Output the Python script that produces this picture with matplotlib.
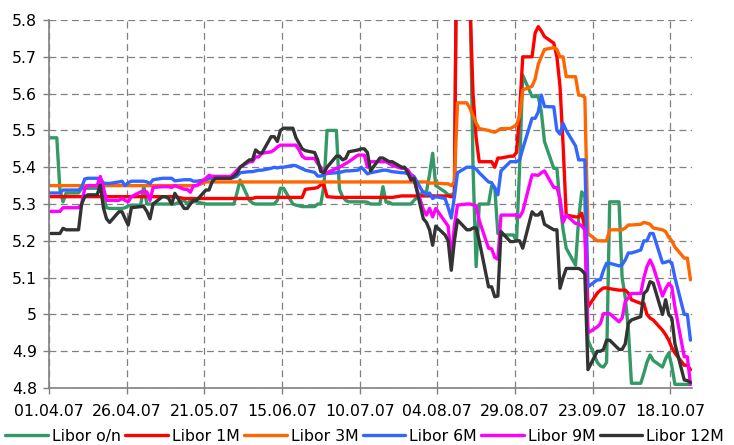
import pandas as pd
import matplotlib
matplotlib.use('Agg')
import matplotlib.pyplot as plt
from matplotlib.ticker import FuncFormatter

# daily fixings, 01.04.07 plus business days 02.04.07 - 24.10.07 (one line per week)
dates = pd.bdate_range('2007-04-02', '2007-10-24').insert(0, pd.Timestamp('2007-04-01'))

libor_on = [
    5.48, 5.48, 5.48, 5.34, 5.306, 5.33,
    5.33, 5.33, 5.343, 5.343, 5.343,
    5.343, 5.343, 5.32, 5.29, 5.288,
    5.288, 5.288, 5.29, 5.295, 5.297,
    5.297, 5.35, 5.30, 5.30, 5.30,
    5.30, 5.30, 5.30, 5.30, 5.30,
    5.31, 5.30, 5.31, 5.306, 5.306,
    5.30, 5.30, 5.30, 5.30, 5.30,
    5.30, 5.30, 5.30, 5.33, 5.365,
    5.31, 5.303, 5.30, 5.30, 5.30,
    5.30, 5.30, 5.31, 5.343, 5.343,
    5.30, 5.297, 5.295, 5.293, 5.293,
    5.293, 5.30, 5.30, 5.35, 5.50,
    5.50, 5.34, 5.32, 5.31, 5.306,
    5.306, 5.306, 5.306, 5.305, 5.30,
    5.30, 5.347, 5.305, 5.305, 5.30,
    5.30, 5.30, 5.30, 5.30, 5.31,
    5.333, 5.333, 5.38, 5.438, 5.35,
    5.333, 5.325, 5.325, 5.33, 6.30,
    6.30, 5.90, 5.40, 5.13, 5.30,
    5.30, 5.35, 5.345, 5.22, 5.216,
    5.216, 5.216, 5.20, 5.40, 5.65,
    5.592, 5.592, 5.592, 5.55, 5.47,
    5.397, 5.397, 5.30, 5.23, 5.18,
    5.134, 5.26, 5.333, 5.32, 4.93,
    4.87, 4.86, 4.857, 4.87, 5.306,
    5.306, 5.10, 5.047, 4.96, 4.813,
    4.813, 4.84, 4.87, 4.89, 4.875,
    4.857, 4.88, 4.895, 4.86, 4.81,
    4.81, 4.81, 4.81,
]

libor_1m = [
    5.32, 5.32, 5.32, 5.32, 5.32, 5.32,
    5.32, 5.32, 5.32, 5.32, 5.32,
    5.32, 5.32, 5.32, 5.32, 5.32,
    5.32, 5.32, 5.32, 5.32, 5.32,
    5.32, 5.32, 5.32, 5.32, 5.32,
    5.32, 5.32, 5.32, 5.32, 5.32,
    5.315, 5.315, 5.315, 5.315, 5.315,
    5.315, 5.315, 5.315, 5.315, 5.315,
    5.315, 5.315, 5.315, 5.315, 5.315,
    5.315, 5.315, 5.318, 5.318, 5.318,
    5.318, 5.318, 5.318, 5.318, 5.318,
    5.318, 5.318, 5.318, 5.318, 5.34,
    5.343, 5.345, 5.352, 5.352, 5.32,
    5.318, 5.318, 5.318, 5.318, 5.318,
    5.318, 5.318, 5.318, 5.318, 5.318,
    5.318, 5.318, 5.318, 5.318, 5.318,
    5.322, 5.322, 5.322, 5.322, 5.322,
    5.322, 5.322, 5.322, 5.322, 5.322,
    5.322, 5.322, 5.32, 5.32, 6.30,
    6.30, 5.85, 5.60, 5.48, 5.415,
    5.415, 5.415, 5.40, 5.425, 5.425,
    5.43, 5.43, 5.44, 5.55, 5.70,
    5.70, 5.765, 5.782, 5.77, 5.755,
    5.737, 5.70, 5.62, 5.46, 5.27,
    5.265, 5.265, 5.275, 5.235, 5.02,
    5.058, 5.066, 5.072, 5.072, 5.07,
    5.066, 5.066, 5.066, 5.058, 5.04,
    5.03, 5.03, 5.00, 4.99, 4.985,
    4.957, 4.945, 4.93, 4.91, 4.895,
    4.862, 4.862, 4.85,
]

libor_3m = [
    5.35, 5.35, 5.35, 5.35, 5.35, 5.35,
    5.35, 5.35, 5.35, 5.35, 5.35,
    5.35, 5.35, 5.35, 5.35, 5.35,
    5.35, 5.35, 5.35, 5.35, 5.35,
    5.35, 5.35, 5.35, 5.35, 5.35,
    5.35, 5.35, 5.35, 5.35, 5.35,
    5.35, 5.35, 5.35, 5.35, 5.35,
    5.36, 5.36, 5.36, 5.36, 5.36,
    5.36, 5.36, 5.36, 5.36, 5.36,
    5.36, 5.36, 5.36, 5.36, 5.36,
    5.36, 5.36, 5.36, 5.36, 5.36,
    5.36, 5.36, 5.36, 5.36, 5.36,
    5.36, 5.36, 5.36, 5.36, 5.36,
    5.36, 5.36, 5.36, 5.36, 5.36,
    5.36, 5.36, 5.36, 5.36, 5.36,
    5.36, 5.36, 5.36, 5.36, 5.36,
    5.36, 5.36, 5.36, 5.36, 5.36,
    5.36, 5.36, 5.357, 5.357, 5.357,
    5.355, 5.355, 5.35, 5.36, 5.575,
    5.575, 5.56, 5.54, 5.52, 5.505,
    5.50, 5.497, 5.495, 5.50, 5.505,
    5.505, 5.51, 5.515, 5.54, 5.61,
    5.62, 5.64, 5.68, 5.70, 5.72,
    5.725, 5.72, 5.70, 5.70, 5.646,
    5.646, 5.596, 5.595, 5.59, 5.22,
    5.20, 5.20, 5.20, 5.20, 5.23,
    5.23, 5.23, 5.235, 5.243, 5.243,
    5.245, 5.25, 5.248, 5.245, 5.235,
    5.23, 5.225, 5.21, 5.20, 5.183,
    5.153, 5.153, 5.094,
]

libor_6m = [
    5.33, 5.33, 5.33, 5.33, 5.338, 5.338,
    5.338, 5.338, 5.345, 5.368, 5.37,
    5.37, 5.368, 5.357, 5.356, 5.356,
    5.36, 5.362, 5.35, 5.358, 5.362,
    5.362, 5.362, 5.36, 5.356, 5.366,
    5.37, 5.37, 5.37, 5.37, 5.363,
    5.366, 5.366, 5.366, 5.362, 5.362,
    5.366, 5.37, 5.37, 5.37, 5.37,
    5.37, 5.37, 5.372, 5.376, 5.385,
    5.388, 5.388, 5.39, 5.392, 5.392,
    5.397, 5.40, 5.398, 5.40, 5.40,
    5.405, 5.404, 5.40, 5.396, 5.392,
    5.386, 5.376, 5.376, 5.38, 5.383,
    5.385, 5.386, 5.388, 5.39, 5.39,
    5.392, 5.40, 5.392, 5.382, 5.385,
    5.39, 5.392, 5.392, 5.39, 5.388,
    5.385, 5.385, 5.382, 5.38, 5.375,
    5.33, 5.325, 5.33, 5.315, 5.32,
    5.315, 5.29, 5.262, 5.32, 5.385,
    5.40, 5.40, 5.40, 5.395, 5.385,
    5.36, 5.358, 5.343, 5.325, 5.39,
    5.415, 5.415, 5.415, 5.42, 5.45,
    5.533, 5.533, 5.55, 5.596, 5.565,
    5.564, 5.50, 5.49, 5.519, 5.50,
    5.458, 5.42, 5.42, 5.42, 5.075,
    5.094, 5.094, 5.12, 5.139, 5.139,
    5.132, 5.135, 5.148, 5.167, 5.167,
    5.175, 5.20, 5.20, 5.22, 5.22,
    5.14, 5.142, 5.145, 5.14, 5.10,
    5.00, 5.00, 4.93,
]

libor_9m = [
    5.28, 5.28, 5.28, 5.28, 5.29, 5.29,
    5.29, 5.29, 5.30, 5.343, 5.35,
    5.35, 5.375, 5.345, 5.31, 5.31,
    5.31, 5.315, 5.31, 5.306, 5.32,
    5.333, 5.333, 5.333, 5.31, 5.345,
    5.347, 5.347, 5.347, 5.345, 5.35,
    5.34, 5.34, 5.332, 5.35, 5.35,
    5.37, 5.378, 5.375, 5.375, 5.375,
    5.375, 5.375, 5.383, 5.392, 5.40,
    5.415, 5.415, 5.428, 5.428, 5.438,
    5.442, 5.447, 5.455, 5.46, 5.46,
    5.46, 5.46, 5.447, 5.43, 5.424,
    5.424, 5.41, 5.40, 5.385, 5.385,
    5.397, 5.40, 5.405, 5.41, 5.415,
    5.433, 5.433, 5.433, 5.40, 5.415,
    5.415, 5.415, 5.415, 5.41, 5.405,
    5.397, 5.397, 5.393, 5.38, 5.365,
    5.285, 5.27, 5.288, 5.265, 5.288,
    5.252, 5.24, 5.15, 5.24, 5.297,
    5.30, 5.30, 5.298, 5.295, 5.255,
    5.18, 5.178, 5.155, 5.15, 5.27,
    5.27, 5.27, 5.27, 5.265, 5.28,
    5.379, 5.379, 5.378, 5.385, 5.39,
    5.345, 5.345, 5.315, 5.25, 5.27,
    5.247, 5.247, 5.24, 5.23, 4.95,
    4.966, 4.975, 5.002, 5.002, 5.002,
    4.98, 4.99, 5.035, 5.045, 5.057,
    5.057, 5.10, 5.13, 5.148, 5.13,
    5.05, 5.07, 5.084, 5.075, 5.02,
    4.885, 4.885, 4.81,
]

libor_12m = [
    5.22, 5.22, 5.22, 5.22, 5.234, 5.23,
    5.23, 5.23, 5.30, 5.32, 5.325,
    5.325, 5.352, 5.29, 5.26, 5.25,
    5.279, 5.279, 5.26, 5.243, 5.29,
    5.293, 5.293, 5.28, 5.26, 5.30,
    5.32, 5.32, 5.315, 5.30, 5.329,
    5.288, 5.288, 5.30, 5.31, 5.31,
    5.338, 5.338, 5.36, 5.37, 5.37,
    5.37, 5.37, 5.376, 5.383, 5.40,
    5.42, 5.42, 5.447, 5.44, 5.438,
    5.483, 5.483, 5.47, 5.50, 5.506,
    5.506, 5.48, 5.465, 5.45, 5.445,
    5.44, 5.42, 5.388, 5.385, 5.40,
    5.43, 5.43, 5.42, 5.424, 5.442,
    5.447, 5.45, 5.45, 5.44, 5.39,
    5.425, 5.425, 5.42, 5.415, 5.415,
    5.40, 5.40, 5.385, 5.365, 5.37,
    5.26, 5.25, 5.23, 5.188, 5.24,
    5.216, 5.20, 5.12, 5.20, 5.257,
    5.23, 5.23, 5.235, 5.235, 5.20,
    5.075, 5.075, 5.048, 5.05, 5.225,
    5.198, 5.198, 5.20, 5.20, 5.18,
    5.279, 5.27, 5.27, 5.279, 5.245,
    5.23, 5.23, 5.071, 5.10, 5.125,
    5.125, 5.125, 5.12, 5.11, 4.85,
    4.90, 4.90, 4.905, 4.93, 4.93,
    4.905, 4.905, 4.92, 4.976, 4.985,
    4.994, 5.057, 5.065, 5.089, 5.085,
    5.00, 5.04, 5.00, 4.99, 4.92,
    4.822, 4.82, 4.815,
]

names = ['Libor o/n', 'Libor 1M', 'Libor 3M', 'Libor 6M', 'Libor 9M', 'Libor 12M']
colors = ['#339966', '#ff0000', '#ff6600', '#3366ff', '#ff00ff', '#333333']
tick_labels = ['01.04.07', '26.04.07', '21.05.07', '15.06.07', '10.07.07',
               '04.08.07', '29.08.07', '23.09.07', '18.10.07']
y_ticks = [4.8, 4.9, 5.0, 5.1, 5.2, 5.3, 5.4, 5.5, 5.6, 5.7, 5.8]

fig = plt.figure(figsize=(7.34, 4.45), dpi=100)
ax = fig.add_axes([0.0668, 0.128, 0.876, 0.827])

x = dates + pd.Timedelta(hours=12)   # points sit in the middle of their day
for vals, name, col in zip([libor_on, libor_1m, libor_3m, libor_6m, libor_9m, libor_12m],
                           names, colors):
    ax.plot(x, vals, color=col, lw=2.4, label=name,
            solid_joinstyle='round', solid_capstyle='round')

ax.set_xlim(pd.Timestamp('2007-04-01'), pd.Timestamp('2007-10-25'))
ax.set_ylim(4.8, 5.8)
ax.set_xticks(pd.to_datetime(tick_labels, format='%d.%m.%y'))
ax.set_xticklabels(tick_labels)
ax.set_yticks(y_ticks)
ax.yaxis.set_major_formatter(FuncFormatter(lambda v, p: '%g' % round(v, 2)))

ax.grid(True, color='#808080', lw=0.9, ls=(0, (5.5, 3.5)))
ax.set_axisbelow(True)
for s in ['top', 'right']:
    ax.spines[s].set_visible(False)
for s in ['left', 'bottom']:
    ax.spines[s].set_color('#808080')
    ax.spines[s].set_linewidth(1.2)
ax.tick_params(direction='out', length=4.5, width=1, color='#808080',
               labelsize=11.3, labelcolor='black')
ax.tick_params(axis='x', pad=7)
ax.tick_params(axis='y', pad=4)

fig.legend(loc='center', bbox_to_anchor=(0.497, 0.02), ncol=6, frameon=False,
           fontsize=11.3, handlelength=2.7, handletextpad=0.25,
           columnspacing=0.3, borderpad=0, borderaxespad=0)

fig.savefig('out.png', dpi=100)
